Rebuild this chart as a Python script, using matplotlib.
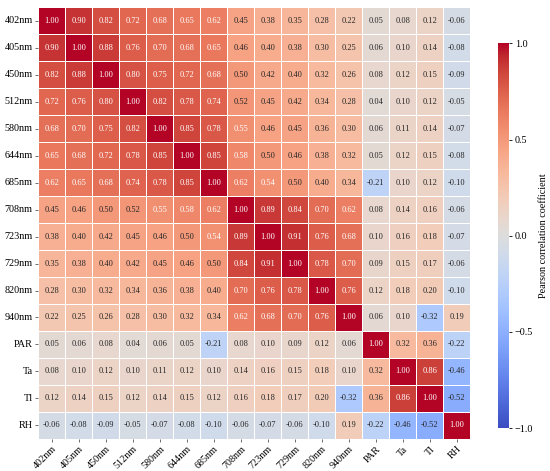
import numpy as np
import pandas as pd
import matplotlib
matplotlib.use("Agg")
import matplotlib.pyplot as plt
import seaborn as sns

# ------------ données ------------
labels = ["402nm", "405nm", "450nm", "512nm", "580nm", "644nm", "685nm", "708nm",
          "723nm", "729nm", "820nm", "940nm", "PAR", "Ta", "Tl", "RH"]

r402 = [1.00, 0.90, 0.82, 0.72, 0.68, 0.65, 0.62, 0.45, 0.38, 0.35, 0.28, 0.22, 0.05, 0.08, 0.12, -0.06]
r405 = [0.90, 1.00, 0.88, 0.76, 0.70, 0.68, 0.65, 0.46, 0.40, 0.38, 0.30, 0.25, 0.06, 0.10, 0.14, -0.08]
r450 = [0.82, 0.88, 1.00, 0.80, 0.75, 0.72, 0.68, 0.50, 0.42, 0.40, 0.32, 0.26, 0.08, 0.12, 0.15, -0.09]
r512 = [0.72, 0.76, 0.80, 1.00, 0.82, 0.78, 0.74, 0.52, 0.45, 0.42, 0.34, 0.28, 0.04, 0.10, 0.12, -0.05]
r580 = [0.68, 0.70, 0.75, 0.82, 1.00, 0.85, 0.78, 0.55, 0.46, 0.45, 0.36, 0.30, 0.06, 0.11, 0.14, -0.07]
r644 = [0.65, 0.68, 0.72, 0.78, 0.85, 1.00, 0.85, 0.58, 0.50, 0.46, 0.38, 0.32, 0.05, 0.12, 0.15, -0.08]
r685 = [0.62, 0.65, 0.68, 0.74, 0.78, 0.85, 1.00, 0.62, 0.54, 0.50, 0.40, 0.34, -0.21, 0.10, 0.12, -0.10]
r708 = [0.45, 0.46, 0.50, 0.52, 0.55, 0.58, 0.62, 1.00, 0.89, 0.84, 0.70, 0.62, 0.08, 0.14, 0.16, -0.06]
r723 = [0.38, 0.40, 0.42, 0.45, 0.46, 0.50, 0.54, 0.89, 1.00, 0.91, 0.76, 0.68, 0.10, 0.16, 0.18, -0.07]
r729 = [0.35, 0.38, 0.40, 0.42, 0.45, 0.46, 0.50, 0.84, 0.91, 1.00, 0.78, 0.70, 0.09, 0.15, 0.17, -0.06]
r820 = [0.28, 0.30, 0.32, 0.34, 0.36, 0.38, 0.40, 0.70, 0.76, 0.78, 1.00, 0.76, 0.12, 0.18, 0.20, -0.10]
r940 = [0.22, 0.25, 0.26, 0.28, 0.30, 0.32, 0.34, 0.62, 0.68, 0.70, 0.76, 1.00, 0.06, 0.10, -0.32, 0.19]
rPAR = [0.05, 0.06, 0.08, 0.04, 0.06, 0.05, -0.21, 0.08, 0.10, 0.09, 0.12, 0.06, 1.00, 0.32, 0.36, -0.22]
rTa = [0.08, 0.10, 0.12, 0.10, 0.11, 0.12, 0.10, 0.14, 0.16, 0.15, 0.18, 0.10, 0.32, 1.00, 0.86, -0.46]
rTl = [0.12, 0.14, 0.15, 0.12, 0.14, 0.15, 0.12, 0.16, 0.18, 0.17, 0.20, -0.32, 0.36, 0.86, 1.00, -0.52]
rRH = [-0.06, -0.08, -0.09, -0.05, -0.07, -0.08, -0.10, -0.06, -0.07, -0.06, -0.10, 0.19, -0.22, -0.46, -0.52, 1.00]
# ---------------------------------

corr = pd.DataFrame([r402, r405, r450, r512, r580, r644, r685, r708,
                     r723, r729, r820, r940, rPAR, rTa, rTl, rRH],
                    index=labels, columns=labels)

plt.rcParams["font.family"] = ["Liberation Serif", "DejaVu Serif"]

fig = plt.figure(figsize=(5.5, 4.71), dpi=100)
ax = fig.add_axes([0.069, 0.068, 0.787, 0.917])
cax = fig.add_axes([0.906, 0.091, 0.02, 0.817])

sns.heatmap(corr, ax=ax, cbar_ax=cax, cmap="coolwarm", vmin=-1, vmax=1,
            annot=True, fmt=".2f", annot_kws={"size": 6},
            linewidths=0.5, linecolor="white", square=True,
            cbar_kws={"label": "Pearson correlation coefficient"})

ax.set_xticklabels(labels, rotation=45, ha="right", rotation_mode="anchor", fontsize=7.3)
ax.set_yticklabels(labels, rotation=0, fontsize=7.3)
ax.tick_params(length=2.5, width=0.6, color="#555555", pad=1.5)

cax.set_yticks([-1.0, -0.5, 0.0, 0.5, 1.0])
cax.tick_params(labelsize=7.3, length=2.5, width=0.6, pad=1.5)
cax.yaxis.label.set_size(7.3)
cax.set_frame_on(False)

fig.savefig("out.png", dpi=100)
